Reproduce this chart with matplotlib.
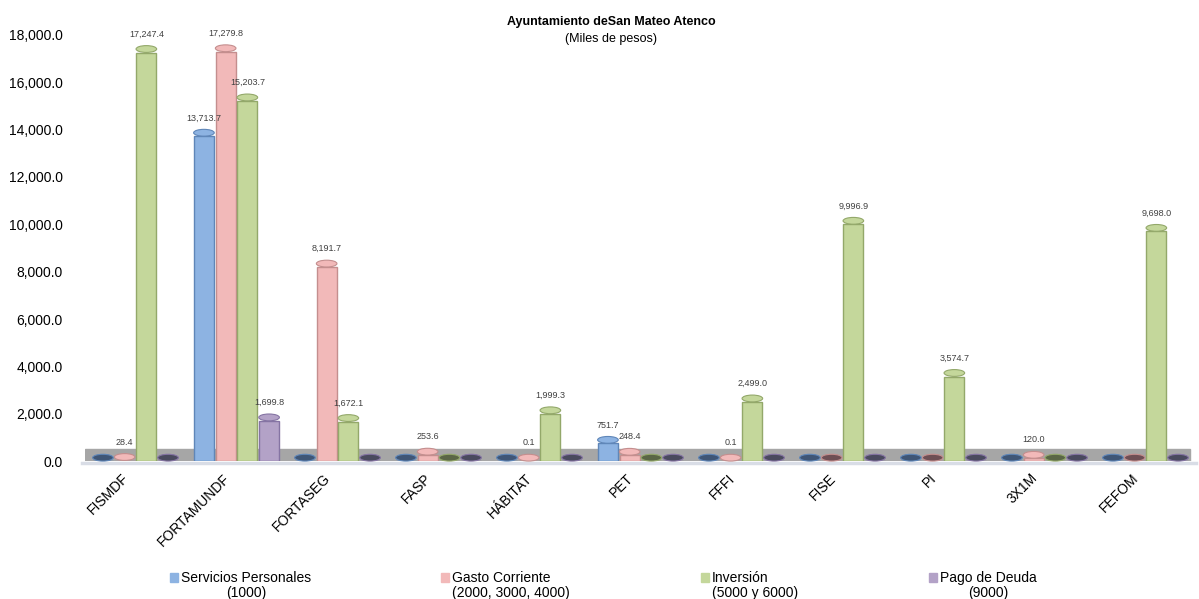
import numpy as np
import matplotlib
matplotlib.use("Agg")
import matplotlib.pyplot as plt
import matplotlib.transforms as mtransforms
from matplotlib.path import Path
from matplotlib.patches import Rectangle
from matplotlib.legend_handler import HandlerPatch
from matplotlib.ticker import FuncFormatter

plt.rcParams['font.family'] = ['Liberation Sans', 'DejaVu Sans']

categories = ['FISMDF', 'FORTAMUNDF', 'FORTASEG', 'FASP', 'HÁBITAT', 'PET',
              'FFFI', 'FISE', 'PI', '3X1M', 'FEFOM']
series_names = ['Servicios Personales\n(1000)',
                'Gasto Corriente\n(2000, 3000, 4000)',
                'Inversión\n(5000 y 6000)',
                'Pago de Deuda\n(9000)']
servicios = [0, 13713.7, 0, 0, 0, 751.7, 0, 0, 0, 0, 0]
gasto = [28.4, 17279.8, 8191.7, 253.6, 0.1, 248.4, 0.1, 0, 0, 120.0, 0]
inversion = [17247.4, 15203.7, 1672.1, 0, 1999.3, 0, 2499.0, 9996.9, 3574.7, 0, 9698.0]
deuda = [0, 1699.8, 0, 0, 0, 0, 0, 0, 0, 0, 0]

face = ['#8db3e2', '#f2b9b9', '#c4d79b', '#b3a2c7']
edge = ['#5f86b8', '#c48e8e', '#93a86a', '#8574a3']
cap_lo = ['#3f5676', '#6e4f55', '#5a6646', '#4a4a5e']

fig = plt.figure(figsize=(11.99, 5.99), dpi=100)
ax = fig.add_axes([0.0709, 0.230, 0.9266, 0.712])

x = np.arange(len(categories))
w = 0.2
ellipse = Path(Path.unit_circle().vertices * [1.0, 0.33], Path.unit_circle().codes)

# grey floor
ax.axhspan(0, 520, xmin=0.0, xmax=0.995, color='#a6a6a6', zorder=1)
ax.axhline(-90, xmin=-0.003, color='#d9dde6', lw=2.5, zorder=1, clip_on=False)

for i, vals in enumerate([servicios, gasto, inversion, deuda]):
    vals = np.array(vals)
    xs = x + (i - 1.5) * 0.215
    ax.bar(xs, vals, width=w, color=face[i], edgecolor=edge[i], linewidth=1.0, zorder=3)
    caps = [cap_lo[i] if v == 0 else face[i] for v in vals]
    ax.scatter(xs, vals + 150, marker=ellipse, s=220, c=caps,
               edgecolors=edge[i], linewidths=0.8, zorder=4, clip_on=False)
    for xx, v in zip(xs, vals):
        if v > 0:
            ax.annotate(f'{v:,.1f}', (xx, v), xytext=(0, 10), textcoords='offset points',
                        ha='center', va='bottom', fontsize=6.5, color='#404040', zorder=5)

ax.set_xlim(-0.5, len(categories) - 0.5)
ax.set_ylim(0, 18000)
ax.set_yticks(np.arange(0, 18001, 2000))
ax.yaxis.set_major_formatter(FuncFormatter(lambda v, p: f'{v:,.1f}'))
ax.tick_params(axis='y', length=0, pad=16, labelsize=10)
ax.set_xticks(x)
ax.set_xticklabels(categories, rotation=45, ha='right', rotation_mode='anchor', fontsize=10)
ax.tick_params(axis='x', length=0, pad=7)
shift = mtransforms.ScaledTranslation(-14 / 100, 0, fig.dpi_scale_trans)
for lab in ax.get_xticklabels():
    lab.set_transform(lab.get_transform() + shift)
for s in ax.spines.values():
    s.set_visible(False)

fig.text(0.51, 0.963, 'Ayuntamiento deSan Mateo Atenco', ha='center', va='center',
         fontsize=9, fontweight='bold')
fig.text(0.51, 0.935, '(Miles de pesos)', ha='center', va='center', fontsize=9)


def raised_square(legend, orig_handle, xdescent, ydescent, width, height, fontsize):
    return Rectangle((-xdescent, -ydescent + 0.62 * fontsize), width, height)


leg_x = [0.137, 0.363, 0.580, 0.770]
aligns = ['center', 'left', 'left', 'center']
for i, name in enumerate(series_names):
    h = Rectangle((0, 0), 1, 1, color=face[i])
    lg = fig.legend([h], [name], loc='upper left', bbox_to_anchor=(leg_x[i], 0.056),
                    frameon=False, fontsize=10, handlelength=0.6, handleheight=0.6,
                    handletextpad=0.2, borderaxespad=0, labelspacing=0,
                    handler_map={Rectangle: HandlerPatch(patch_func=raised_square)})
    for t in lg.get_texts():
        t.set_multialignment(aligns[i])
        t.set_linespacing(1.05)

fig.savefig('out.png', dpi=100)
